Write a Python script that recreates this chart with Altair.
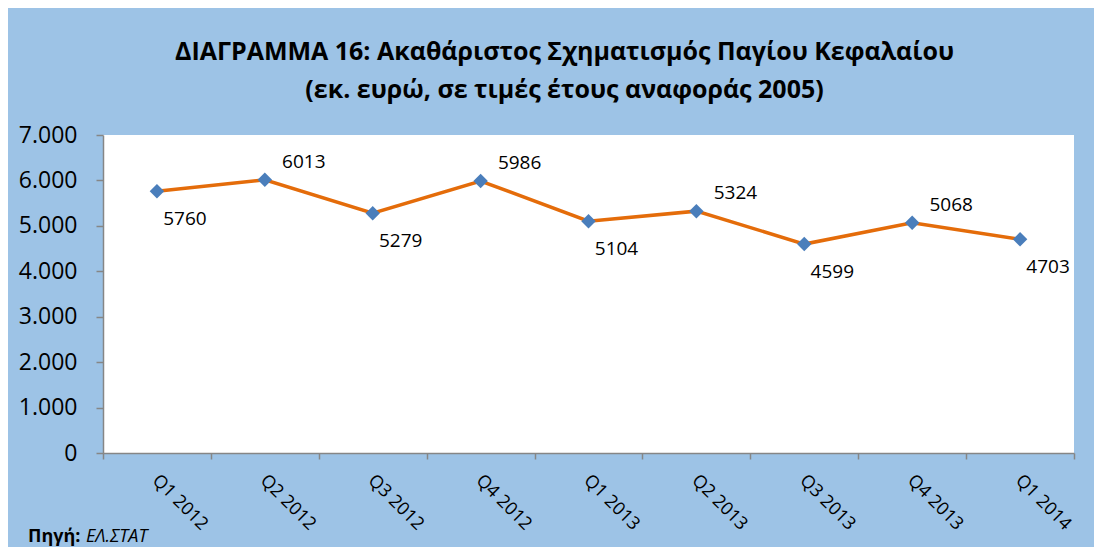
import altair as alt
import pandas as pd

quarters = ["Q1 2012", "Q2 2012", "Q3 2012", "Q4 2012", "Q1 2013",
            "Q2 2013", "Q3 2013", "Q4 2013", "Q1 2014"]
values = [5760, 6013, 5279, 5986, 5104, 5324, 4599, 5068, 4703]
y_ticks = [0, 1000, 2000, 3000, 4000, 5000, 6000, 7000]
title_lines = ["ΔΙΑΓΡΑΜΜΑ 16: Ακαθάριστος Σχηματισμός Παγίου Κεφαλαίου",
               "(εκ. ευρώ, σε τιμές έτους αναφοράς 2005)"]
source_label = ["Πηγή:"]
source_name = ["ΕΛ.ΣΤΑΤ"]

FONT = "Open Sans"
BG = "#9DC3E6"
LINE = "#E46C0A"
MARK = "#4A7EBB"
AXIS = "#868686"

df = pd.DataFrame({"quarter": quarters, "value": values, "idx": list(range(len(values)))})

x = alt.X("quarter:N", sort=quarters, bandPosition=0.5,
          scale=alt.Scale(type="band", paddingInner=0, paddingOuter=0),
          axis=alt.Axis(title=None, labelAngle=45, tickBand="extent",
                        labelFontSize=18, labelFont=FONT, labelColor="black",
                        labelPadding=12, labelOffset=4, tickSize=6, tickColor=AXIS,
                        domainColor=AXIS, domainWidth=1.5, tickWidth=1.5))
y = alt.Y("value:Q", scale=alt.Scale(domain=[0, 7000], nice=False),
          axis=alt.Axis(title=None, values=y_ticks, grid=False,
                        labelExpr="replace(format(datum.value, ','), ',', '.')",
                        labelFontSize=23, labelFont=FONT, labelColor="black",
                        labelPadding=19, tickSize=7, tickColor=AXIS,
                        domainColor=AXIS, domainWidth=1.5, tickWidth=1.5))

base = alt.Chart(df)
line = base.mark_line(color=LINE, strokeWidth=3.5).encode(x=x, y=y)
pts = base.mark_point(shape="diamond", filled=True, size=210, color=MARK, opacity=1).encode(x=x, y=y)

lab_below = base.transform_filter("datum.idx % 2 == 0").mark_text(
    font=FONT, fontSize=19, color="black", dx=28, dy=28, align="center", baseline="middle"
).encode(x=x, y=y, text="value:Q")
lab_above = base.transform_filter("datum.idx % 2 == 1").mark_text(
    font=FONT, fontSize=19, color="black", dx=39, dy=-18, align="center", baseline="middle"
).encode(x=x, y=y, text="value:Q")

src1 = alt.Chart(pd.DataFrame({"t": source_label})).mark_text(
    font=FONT, fontSize=18, fontWeight="bold", color="black", align="left", baseline="alphabetic"
).encode(x=alt.value(-75), y=alt.value(407), text="t:N")
src2 = alt.Chart(pd.DataFrame({"t": source_name})).mark_text(
    font=FONT, fontSize=18, fontStyle="italic", color="black", align="left", baseline="alphabetic"
).encode(x=alt.value(-17), y=alt.value(407), text="t:N")

chart = alt.layer(line, pts, lab_below, lab_above, src1, src2).properties(
    width=971, height=318,
    title=alt.Title(text=title_lines, font=FONT, fontSize=25, fontWeight="bold",
                    color="black", anchor="middle", dx=-24, offset=21, lineHeight=38),
    background=BG,
    padding={"left": 95, "top": 127, "right": 20, "bottom": 94},
    autosize=alt.AutoSizeParams(type="none"),
).configure_view(fill="white", stroke=None)

chart.save("out.html", embed_options={"renderer": "svg", "actions": False})
